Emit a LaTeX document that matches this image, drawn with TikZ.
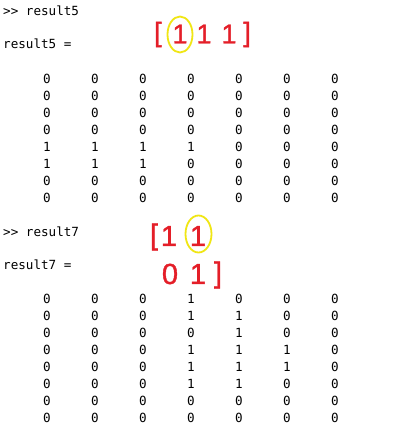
\documentclass[tikz,border=0pt]{standalone}
\usepackage{fontspec}
\setmonofont{DejaVu Sans Mono}
\newfontfamily\redfont[FakeBold=1.3]{Liberation Sans}
\definecolor{annred}{RGB}{228,30,40}
\definecolor{annyellow}{RGB}{240,230,20}
\begin{document}
\begin{tikzpicture}[x=1pt,y=-1pt,
  mono/.style={font=\ttfamily\fontsize{12.6}{15}\selectfont,inner sep=0pt},
  cell/.style={mono,anchor=center},
  redA/.style={font=\redfont\fontsize{27}{30}\selectfont,text=annred,inner sep=0pt,anchor=center},
  redB/.style={font=\redfont\fontsize{29}{32}\selectfont,text=annred,inner sep=0pt,anchor=center},
  ring/.style={draw=annyellow,line width=1.8pt}]
\useasboundingbox[fill=white] (0,0) rectangle (407,439);
% first block
\node[mono,anchor=base west] (p5) at (3,15) {>> result5};
\node[mono,anchor=base west] (r5) at (3,48) {result5 =};
\foreach \row [count=\i from 0] in {
  {0,0,0,0,0,0,0},{0,0,0,0,0,0,0},{0,0,0,0,0,0,0},{0,0,0,0,0,0,0},
  {1,1,1,1,0,0,0},{1,1,1,0,0,0,0},{0,0,0,0,0,0,0},{0,0,0,0,0,0,0}}{
  \foreach \v [count=\j from 0] in \row {
    \pgfmathsetmacro\xx{47+48*\j}
    \node[cell] (a\i\j) at (\xx,{79+17*\i}) {\v};
  }
}
% red annotation 1
\node[redA] (ab1) at (158,34.5) {[};
\node[redA] (ad1) at (180,34) {1};
\node[redA] (ad2) at (204,34) {1};
\node[redA] (ad3) at (229,34) {1};
\node[redA] (ab2) at (247,34.5) {]};
\draw[ring] (180,34.5) ellipse [x radius=12.5, y radius=18];
% second block
\node[mono,anchor=base west] (p7) at (3,236) {>> result7};
\node[mono,anchor=base west] (r7) at (3,269) {result7 =};
\foreach \row [count=\i from 0] in {
  {0,0,0,1,0,0,0},{0,0,0,1,1,0,0},{0,0,0,0,1,0,0},{0,0,0,1,1,1,0},
  {0,0,0,1,1,1,0},{0,0,0,1,1,0,0},{0,0,0,0,0,0,0},{0,0,0,0,0,0,0}}{
  \foreach \v [count=\j from 0] in \row {
    \pgfmathsetmacro\xx{47+48*\j}
    \node[cell] (b\i\j) at (\xx,{299+17*\i}) {\v};
  }
}
% red annotation 2
\node[redB] (bb1) at (154,237) {[};
\node[redB] (bd1) at (169,236) {1};
\node[redB] (bd2) at (198,236) {1};
\node[redB] (bd3) at (170,274) {0};
\node[redB] (bd4) at (198,274) {1};
\node[redB] (bb2) at (218,275) {]};
\draw[ring] (198.5,234) ellipse [x radius=13, y radius=18.5];
\end{tikzpicture}
\end{document}
